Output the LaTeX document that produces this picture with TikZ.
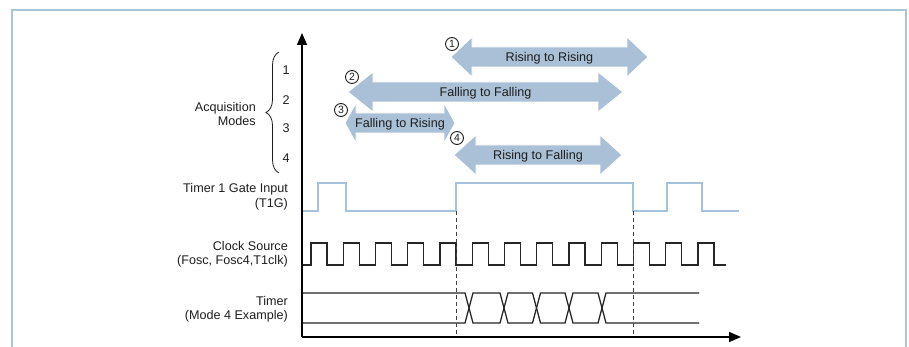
\documentclass[tikz,border=0pt]{standalone}
\usepackage{fontspec}
\setmainfont{Liberation Sans}
\usetikzlibrary{arrows.meta,decorations.pathreplacing}
\definecolor{framec}{HTML}{A9C5DA}
\definecolor{arrc}{HTML}{A9C0D6}
\definecolor{gatec}{HTML}{A6C2DB}
\definecolor{txt}{HTML}{1E1E1E}
\newcommand{\dblarr}[4]{\path[bigarrow] (#1,#3) -- ({#1+#4},{#3-20}) -- ({#1+#4},{#3-10}) -- ({#2-#4},{#3-10}) -- ({#2-#4},{#3-20}) -- (#2,#3) -- ({#2-#4},{#3+20}) -- ({#2-#4},{#3+10}) -- ({#1+#4},{#3+10}) -- ({#1+#4},{#3+20}) -- cycle;}
\begin{document}
\begin{tikzpicture}[x=1pt,y=-1pt,
  lbl/.style={font=\fontsize{12.6}{14.5}\selectfont, text=txt, inner sep=0pt, align=right, anchor=east},
  atext/.style={font=\fontsize{12.6}{14.5}\selectfont, text=txt, inner sep=0pt, anchor=base},
  bigarrow/.style={fill=arrc, draw=white, line width=0.8pt},
  num/.style={circle, draw=txt, line width=0.9pt, inner sep=0pt, minimum size=13pt, font=\fontsize{10.5}{10.5}\selectfont, text=txt},
  sig/.style={line width=1.3pt, black!85},
  gate/.style={line width=1.3pt, gatec},
  taxis/.style={line width=1.6pt, black, -{Triangle[length=12pt,width=10pt]}},
  guide/.style={dash pattern=on 4pt off 3pt, line width=0.9pt, black!75}
]
\fill[white] (0,0) rectangle (909,347);
\useasboundingbox (0,0) rectangle (909,347);
% frame
\draw[framec, line width=2.2pt] (12,352) -- (12,10) -- (906,10) -- (906,352);

% big arrows
\dblarr{451}{648}{57}{21}
\dblarr{348}{623}{92}{25}
\dblarr{345}{455}{123}{11}
\dblarr{454}{622}{155}{22}
\node[atext] (t1) at (549.5,61.5) {Rising to Rising};
\node[atext] (t2) at (485.5,96.5) {Falling to Falling};
\node[atext] (t3) at (400,127.5) {Falling to Rising};
\node[atext] (t4) at (538,159.5) {Rising to Falling};
\node[num] (n1) at (452,44) {1};
\node[num] (n2) at (352,77) {2};
\node[num] (n3) at (341,110) {3};
\node[num] (n4) at (457,138) {4};

% acquisition modes
\node[lbl] (acq) at (256,114) {Acquisition\\Modes};
\draw[txt, line width=0.8pt, decorate, decoration={brace, amplitude=13pt}] (279,173) -- (279,52);
\node[atext] (m1) at (286,74.5) {1};
\node[atext] (m2) at (286,104.5) {2};
\node[atext] (m3) at (286,132.5) {3};
\node[atext] (m4) at (286,162.5) {4};

% signal labels
\node[lbl] (gl) at (288,196.5) {Timer 1 Gate Input\\(T1G)};
\node[lbl] (cl) at (288,254) {Clock Source\\(Fosc, Fosc4,T1clk)};
\node[lbl] (tl) at (288,309) {Timer\\(Mode 4 Example)};

% gate input
\draw[gate] (302,211) -- (318,211) -- (318,183) -- (346,183) -- (346,211) -- (456,211) -- (456,183) -- (633,183) -- (633,211) -- (667,211) -- (667,183) -- (702,183) -- (702,211) -- (739,211);

% clock
\draw[sig] (302,265) foreach \k in {0,...,12} { -- ({311+32.25*\k},265) -- ({311+32.25*\k},243) -- ({327+32.25*\k},243) -- ({327+32.25*\k},265) } -- (726,265);

% timer
\draw[sig] (302,293) -- (465,293) -- (473,323) -- (500,323) -- (508,293) -- (532.5,293) -- (540.5,323) -- (565,323) -- (573,293) -- (598,293) -- (606,323) -- (699,323);
\draw[sig] (302,323) -- (465,323) -- (473,293) -- (500,293) -- (508,323) -- (532.5,323) -- (540.5,293) -- (565,293) -- (573,323) -- (598,323) -- (606,293) -- (699,293);

% guides
\coordinate (g1t) at (456,211); \coordinate (g1b) at (456,337);
\coordinate (g2t) at (633,211); \coordinate (g2b) at (633,337);
\draw[guide] (g1t) -- (g1b);
\draw[guide] (g2t) -- (g2b);

% axes
\coordinate (O) at (302,337);
\coordinate (ytop) at (302,33);
\coordinate (xend) at (741,337);
\draw[taxis] (O) -- (ytop);
\draw[taxis] (O) -- (xend);
\end{tikzpicture}
\end{document}
